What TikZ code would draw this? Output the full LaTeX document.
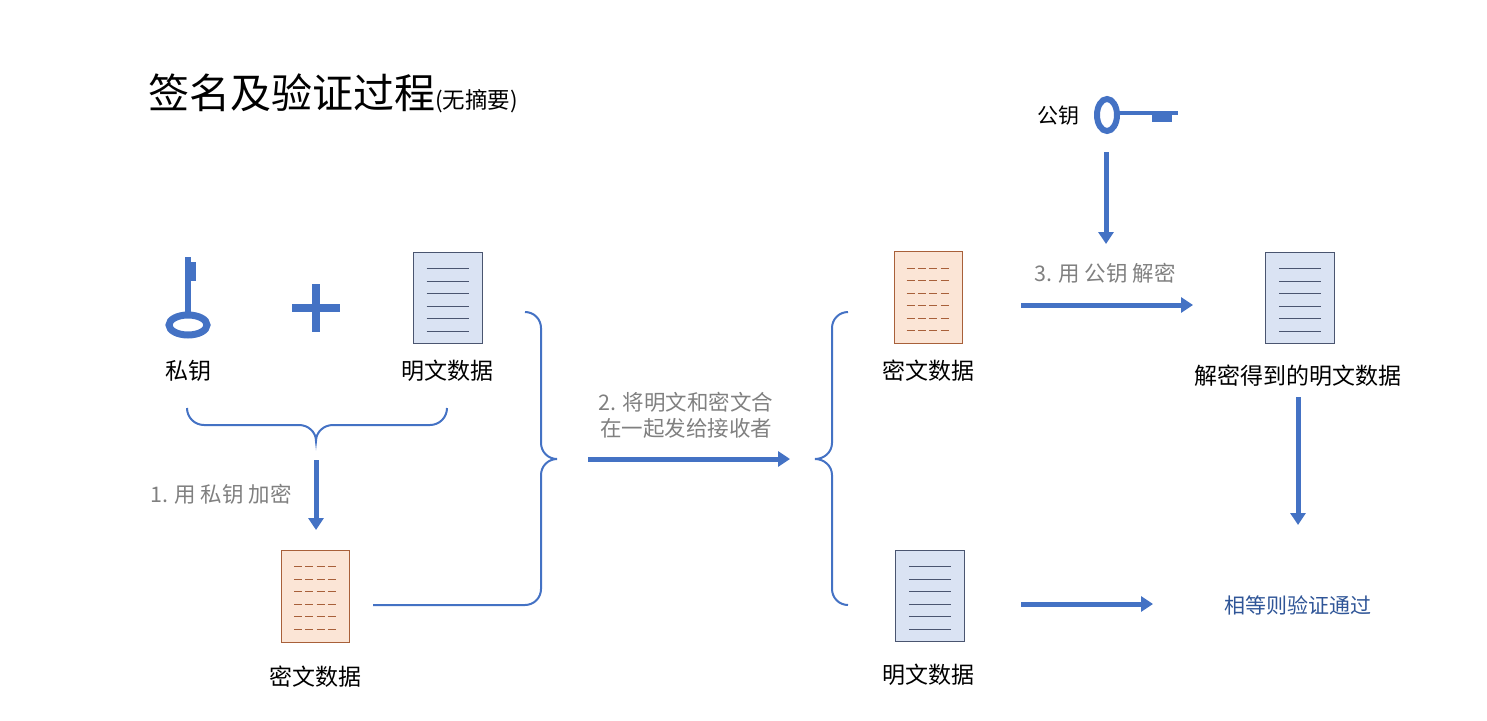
\documentclass[tikz,border=0pt]{standalone}
\usepackage{fontspec}
\setmainfont{Noto Sans CJK SC}
\usetikzlibrary{arrows.meta}
\definecolor{kb}{HTML}{4472C4}
\definecolor{pf}{HTML}{DAE3F3}
\definecolor{pd}{HTML}{4A5570}
\definecolor{cf}{HTML}{FBE5D6}
\definecolor{cd}{HTML}{A8603A}
\definecolor{gt}{HTML}{808080}
\definecolor{gb}{HTML}{2F5597}
\tikzset{
 bigarr/.style={kb,line width=5pt,-{Triangle[length=12pt,width=15pt]}},
 brc/.style={kb,line width=2pt},
 lbl/.style={font=\fontsize{23}{27}\selectfont,inner sep=0pt},
 glbl/.style={font=\fontsize{21.5}{26}\selectfont,text=gt,inner sep=0pt,align=center},
 pdoc/.style={draw=pd,fill=pf,line width=1pt,minimum width=69pt,minimum height=91pt,inner sep=0pt},
 cdoc/.style={draw=cd,fill=cf,line width=1pt,minimum width=68pt,minimum height=92pt,inner sep=0pt},
}
\newcommand\plainlines[1]{\foreach \i in {0,...,5}{\draw[pd,line width=0.9pt] ([xshift=14pt,yshift=-17pt-\i*12.5pt]#1.north west) -- ([xshift=-14pt,yshift=-17pt-\i*12.5pt]#1.north east);}}
\newcommand\cipherlines[1]{\foreach \i in {0,...,5}{\draw[cd,line width=1pt,dash pattern=on 8pt off 3.33pt] ([xshift=13pt,yshift=-17pt-\i*12.5pt]#1.north west) -- ([xshift=-13pt,yshift=-17pt-\i*12.5pt]#1.north east);}}
\begin{document}
\begin{tikzpicture}[x=1pt,y=-1pt]
\useasboundingbox (0,0) rectangle (1487,720);
\node[anchor=base west,inner sep=0pt] (title) at (148,108) {\fontsize{41}{45}\selectfont 签名及验证过程\fontsize{22.5}{26}\selectfont(无摘要)};
% private key
\draw[kb,line width=6pt] (188,257) -- (188,313);
\fill[kb] (188,262) rectangle (196,281);
\draw[kb,line width=7pt] (188,325) ellipse (19 and 10);
\node[lbl] (skl) at (188,371) {私钥};
% plus
\draw[kb,line width=8pt] (292,308) -- (340,308) (316,284) -- (316,332);
\node[pdoc] (pd1) at (447.5,297.5) {}; \plainlines{pd1}
\node[lbl] (pl1) at (447,371) {明文数据};
\draw[brc] (187,408) to[out=-90,in=180] (204,425) -- (299,425) to[out=0,in=90] (316,441) to[out=90,in=180] (333,425) -- (430,425) to[out=0,in=-90] (447,408);
\coordinate (a1s) at (316,460); \coordinate (a1e) at (316,530);
\draw[bigarr] (a1s) -- (a1e);
\node[glbl,anchor=west] (l1) at (150,494) {1. 用 私钥 加密};
\node[cdoc] (cd1) at (315.5,596) {}; \cipherlines{cd1}
\node[lbl] (cl1) at (315,677) {密文数据};
\coordinate (b1) at (373,605);
\draw[brc] (525,312) to[out=0,in=90] (541,328) -- (541,443) to[out=-90,in=180] (557,459) to[out=180,in=90] (541,475) -- (541,589) to[out=-90,in=0] (525,605) -- (b1);
\node[glbl] (l2) at (686,415) {2. 将明文和密文合\\在一起发给接收者};
\coordinate (a2s) at (588,459); \coordinate (a2e) at (790,459);
\draw[bigarr] (a2s) -- (a2e);
\draw[brc] (848,312) to[out=180,in=90] (832,328) -- (832,443) to[out=-90,in=0] (815,459) to[out=0,in=90] (832,475) -- (832,589) to[out=-90,in=180] (848,605);
\node[cdoc] (cd2) at (928,297.5) {}; \cipherlines{cd2}
\node[lbl] (cl2) at (928,371) {密文数据};
\node[pdoc] (pd2) at (930,595.5) {}; \plainlines{pd2}
\node[lbl] (pl2) at (928,675) {明文数据};
% public key
\node[lbl,font=\fontsize{21}{24}\selectfont] (pkl) at (1058,116) {公钥};
\draw[kb,line width=6pt] (1107,115) ellipse (10 and 16);
\draw[kb,line width=4pt] (1120,113) -- (1178,113);
\fill[kb] (1152,113) rectangle (1172,122);
\coordinate (a3s) at (1106,152); \coordinate (a3e) at (1106,244);
\draw[bigarr] (a3s) -- (a3e);
\node[glbl,anchor=west] (l3) at (1034,273) {3. 用 公钥 解密};
\coordinate (a4s) at (1021,305); \coordinate (a4e) at (1193,305);
\draw[bigarr] (a4s) -- (a4e);
\node[pdoc] (pd3) at (1300,297.5) {}; \plainlines{pd3}
\node[lbl] (pl3) at (1298,376) {解密得到的明文数据};
\coordinate (a5s) at (1298,397); \coordinate (a5e) at (1298,525);
\draw[bigarr] (a5s) -- (a5e);
\coordinate (a6s) at (1021,604); \coordinate (a6e) at (1153,604);
\draw[bigarr] (a6s) -- (a6e);
\node[lbl,text=gb,font=\fontsize{21}{24}\selectfont] (eq) at (1298,605) {相等则验证通过};
\end{tikzpicture}
\end{document}
